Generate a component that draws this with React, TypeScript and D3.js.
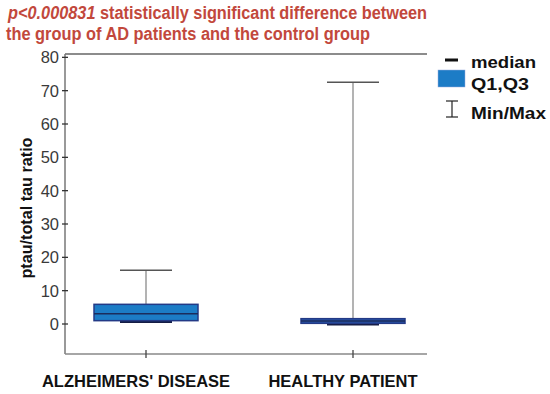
import React from "react";
import * as d3 from "d3";

const categories = ["ALZHEIMERS' DISEASE", "HEALTHY PATIENT"];
const mins = [0.8, 0.0];
const q1s = [1.0, 0.2];
const medians = [3.1, 0.9];
const q3s = [5.9, 1.6];
const maxs = [16.1, 72.5];
const yTicks = [0, 10, 20, 30, 40, 50, 60, 70, 80];
const titleLines = [
  "statistically significant difference between",
  "the group of AD patients and the control group",
];
const legendLabels = ["median", "Q1,Q3", "Min/Max"];

export default function App() {
  const W = 550, H = 394;
  const left = 65, right = 427, top = 54, bottom = 354;
  const x = d3.scalePoint<string>().domain(categories).range([146, 353]);
  const y = d3.scaleLinear().domain([-9, 81]).range([bottom, top]);
  const boxW = 104, capW = 52;
  const font = "'Liberation Sans', Arial, sans-serif";
  const titleColor = "#c2483c";

  return (
    <svg width={W} height={H} style={{ position: "absolute", left: 0, top: 0 }} fontFamily={font}>
      <rect width={W} height={H} fill="#fff" />
      {/* title */}
      <text x={8} y={19} fontSize={17.5} fontWeight="bold" fill={titleColor} textLength={419} lengthAdjust="spacingAndGlyphs">
        <tspan fontStyle="italic">p&lt;0.000831</tspan> {titleLines[0]}
      </text>
      <text x={6} y={40} fontSize={17.5} fontWeight="bold" fill={titleColor} textLength={364} lengthAdjust="spacingAndGlyphs">
        {titleLines[1]}
      </text>
      {/* frame */}
      <line x1={left} x2={right} y1={top} y2={top} stroke="#666" strokeWidth={1.5} />
      <line x1={left} x2={left} y1={top} y2={bottom} stroke="#777" strokeWidth={1.5} />
      <line x1={left} x2={right} y1={bottom} y2={bottom} stroke="#888" strokeWidth={1.5} />
      {/* y ticks */}
      {yTicks.map((t) => (
        <g key={t}>
          <line x1={left - 3} x2={left + 3} y1={y(t)} y2={y(t)} stroke="#333" strokeWidth={1.3} />
          <text x={left - 6} y={y(t)} dy="0.36em" textAnchor="end" fontSize={16.5} fill="#3a3a3a">
            {t}
          </text>
        </g>
      ))}
      {/* x ticks */}
      {categories.map((c) => (
        <line key={c} x1={x(c)!} x2={x(c)!} y1={bottom - 4} y2={bottom + 4} stroke="#444" strokeWidth={1.3} />
      ))}
      {/* y label */}
      <text transform={`translate(32,208) rotate(-90)`} textAnchor="middle" fontSize={16.5} fontWeight="bold" fill="#111" textLength={141} lengthAdjust="spacingAndGlyphs">
        ptau/total tau ratio
      </text>
      {/* boxes */}
      {categories.map((c, i) => {
        const cx = x(c)!;
        return (
          <g key={c}>
            <line x1={cx} x2={cx} y1={y(maxs[i])} y2={y(q3s[i])} stroke="#9a9a9a" strokeWidth={1.5} />
            <line x1={cx - capW / 2} x2={cx + capW / 2} y1={y(maxs[i])} y2={y(maxs[i])} stroke="#555" strokeWidth={1.5} />
            <line x1={cx - capW / 2} x2={cx + capW / 2} y1={y(mins[i]) + 0.5} y2={y(mins[i]) + 0.5} stroke="#151c44" strokeWidth={2.2} />
            <rect x={cx - boxW / 2} y={y(q3s[i])} width={boxW} height={Math.max(y(q1s[i]) - y(q3s[i]), 2)} fill={i === 0 ? "#1c7cc6" : "#2a56a8"} stroke="#233a86" strokeWidth={1.5} />
            <line x1={cx - boxW / 2} x2={cx + boxW / 2} y1={y(medians[i])} y2={y(medians[i])} stroke="#1b2c5c" strokeWidth={1.5} />
            <text x={cx - 10} y={387} textAnchor="middle" fontSize={16.5} fontWeight="bold" fill="#111">
              {c}
            </text>
          </g>
        );
      })}
      {/* legend */}
      <line x1={445} x2={458} y1={60} y2={60} stroke="#111" strokeWidth={3} />
      <rect x={438} y={70} width={27} height={17} fill="#1c7cc6" stroke="#9ad" strokeWidth={0.5} />
      <line x1={452} x2={452} y1={101} y2={117} stroke="#222" strokeWidth={1.2} />
      <line x1={446} x2={458} y1={101} y2={101} stroke="#222" strokeWidth={1.2} />
      <line x1={446} x2={458} y1={117} y2={117} stroke="#222" strokeWidth={1.2} />
      {legendLabels.map((l, i) => (
        <text key={l} x={471} y={[68, 90, 119][i]} fontSize={17} fontWeight="bold" fill="#111" textLength={[65, 58, 75][i]} lengthAdjust="spacingAndGlyphs">
          {l}
        </text>
      ))}
    </svg>
  );
}
